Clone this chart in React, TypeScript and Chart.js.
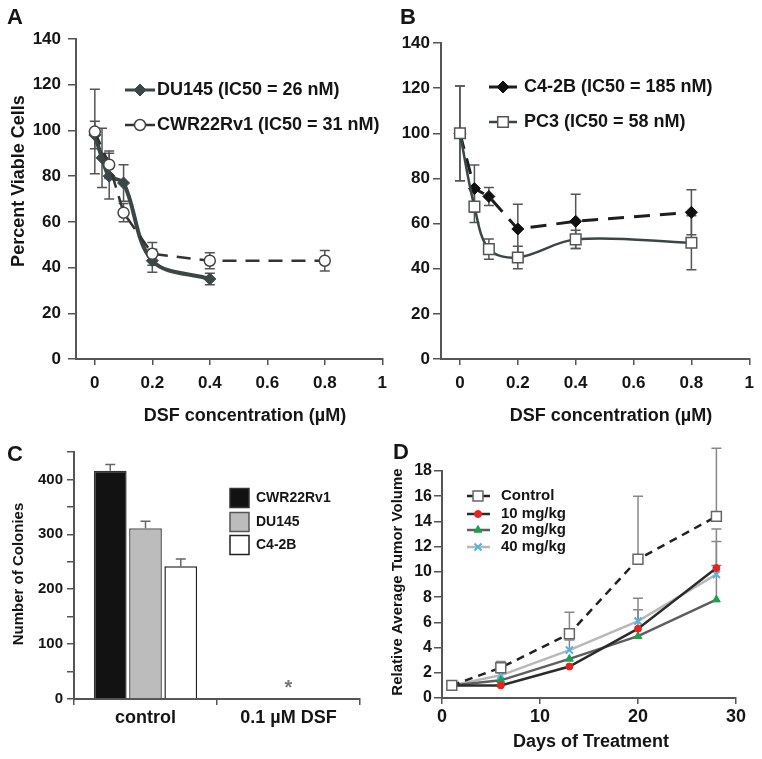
import React, { useEffect, useRef } from 'react';
import { Chart, registerables } from 'chart.js';
import { drawPoint } from 'chart.js/helpers';

Chart.register(...registerables);

const FONT = '"Liberation Sans", Arial, Helvetica, sans-serif';
Chart.defaults.font.family = FONT;

// ---------- Panel A: viability vs DSF ----------
const doseTicks = [0, 0.2, 0.4, 0.6, 0.8, 1];
const du145Dose = [0, 0.025, 0.05, 0.1, 0.2, 0.4];
const du145Viability = [98, 88, 80, 77, 43, 35];
const du145Err = [6, 13, 10, 8, 5, 2.5];
const cwrDose = [0, 0.05, 0.1, 0.2, 0.4, 0.8];
const cwrViability = [99.5, 85, 64, 46, 43, 43];
const cwrErr = [18.5, 6, 4, 5, 3.5, 4.5];

// ---------- Panel B ----------
const c42bDose = [0, 0.05, 0.1, 0.2, 0.4, 0.8];
const c42bViability = [100, 75.5, 72, 57.6, 61, 65];
const c42bErr = [21, 10.5, 4, 11, 12, 10];
const pc3Dose = [0, 0.05, 0.1, 0.2, 0.4, 0.8];
const pc3Viability = [100, 67.5, 48.7, 45, 53, 51.5];
const pc3Err = [21, 7, 4.5, 5, 4, 12];

// ---------- Panel C: colonies ----------
const colonyCategories = ['control', '0.1 \u00b5M DSF'];
const cwrColonies = [416, 0];
const cwrColonyErr = [11, 0];
const du145Colonies = [311, 0];
const du145ColonyErr = [13, 0];
const c42bColonies = [242, 0];
const c42bColonyErr = [13, 0];

// ---------- Panel D: tumor volume ----------
const treatmentDays = [1, 6, 13, 20, 28];
const controlVolume = [1.0, 2.4, 5.1, 11.0, 14.4];
const controlErrUp = [0, 0.5, 1.7, 5.0, 5.4];
const mg10Volume = [1.0, 1.0, 2.5, 5.5, 10.3];
const mg10ErrUp = [0, 0, 0, 1.5, 3.1];
const mg20Volume = [1.0, 1.4, 3.1, 4.9, 7.8];
const mg20ErrUp = [0, 0, 0, 0, 4.6];
const mg40Volume = [1.0, 1.8, 3.8, 6.1, 9.8];
const mg40ErrUp = [0, 0, 0.8, 1.8, 0.7];

const AXIS = '#555';
const TXT = '#151515';

const pts = (xs: number[], ys: number[]) => xs.map((x, i) => ({ x, y: ys[i] }));

const errorBarPlugin = {
  id: 'errorBars',
  beforeDatasetsDraw(chart: any) {
    const ctx = chart.ctx;
    const yScale = chart.scales.y;
    chart.data.datasets.forEach((ds: any, i: number) => {
      if (!ds.errorUp && !ds.errorDown) return;
      const meta = chart.getDatasetMeta(i);
      ctx.save();
      ctx.strokeStyle = ds.errorColor || '#555';
      ctx.lineWidth = ds.errorWidth || 1.5;
      meta.data.forEach((el: any, j: number) => {
        const raw = ds.data[j];
        const v = typeof raw === 'object' && raw !== null ? raw.y : raw;
        const up = ds.errorUp ? ds.errorUp[j] : 0;
        const down = ds.errorDown ? ds.errorDown[j] : 0;
        if (!up && !down) return;
        const x = el.x;
        const yTop = yScale.getPixelForValue(v + up);
        const yBot = yScale.getPixelForValue(v - down);
        const cap = ds.errorCap || 5;
        ctx.beginPath();
        ctx.moveTo(x, yTop);
        ctx.lineTo(x, yBot);
        if (up) { ctx.moveTo(x - cap, yTop); ctx.lineTo(x + cap, yTop); }
        if (down) { ctx.moveTo(x - cap, yBot); ctx.lineTo(x + cap, yBot); }
        ctx.stroke();
      });
      ctx.restore();
    });
  },
};

function decorPlugin(spec: any) {
  return {
    id: 'decor',
    afterDraw(chart: any) {
      const ctx = chart.ctx;
      ctx.save();
      (spec.texts || []).forEach((t: any) => {
        ctx.save();
        ctx.fillStyle = t.color || TXT;
        ctx.font = t.font;
        ctx.textAlign = t.align || 'center';
        ctx.textBaseline = t.baseline || 'middle';
        ctx.translate(t.x, t.y);
        if (t.rotate) ctx.rotate(-Math.PI / 2);
        ctx.fillText(t.text, 0, 0);
        ctx.restore();
      });
      const L = spec.lineLegend;
      if (L) {
        chart.data.datasets.forEach((ds: any, i: number) => {
          const y = L.ys[i];
          ctx.save();
          ctx.strokeStyle = ds.borderColor;
          ctx.lineWidth = Math.min(ds.borderWidth, 3);
          ctx.setLineDash([]);
          ctx.beginPath();
          ctx.moveTo(L.x0, y);
          ctx.lineTo(L.x1, y);
          ctx.stroke();
          ctx.fillStyle = ds.pointBackgroundColor;
          ctx.strokeStyle = ds.pointBorderColor;
          ctx.lineWidth = ds.pointBorderWidth;
          drawPoint(ctx, { pointStyle: ds.pointStyle, radius: ds.pointRadius, rotation: 0, borderWidth: ds.pointBorderWidth } as any, L.mx, y);
          ctx.fillStyle = TXT;
          ctx.font = L.font;
          ctx.textAlign = 'left';
          ctx.textBaseline = 'middle';
          ctx.fillText(ds.label, L.tx, y);
          ctx.restore();
        });
      }
      const B = spec.boxLegend;
      if (B) {
        chart.data.datasets.forEach((ds: any, i: number) => {
          const y = B.ys[i];
          ctx.save();
          ctx.fillStyle = ds.backgroundColor;
          ctx.strokeStyle = ds.borderColor;
          ctx.lineWidth = 1.5;
          ctx.fillRect(B.x, y - B.size / 2, B.size, B.size);
          ctx.strokeRect(B.x, y - B.size / 2, B.size, B.size);
          ctx.fillStyle = TXT;
          ctx.font = B.font;
          ctx.textAlign = 'left';
          ctx.textBaseline = 'middle';
          ctx.fillText(ds.label, B.tx, y);
          ctx.restore();
        });
      }
      if (spec.extra) spec.extra(chart, ctx);
      ctx.restore();
    },
  };
}

function scaleBase(fontSize: number, pad: number, tickLen: number) {
  return {
    grid: { drawOnChartArea: false, drawTicks: true, tickLength: tickLen, color: AXIS, lineWidth: 1.5, tickColor: AXIS, tickWidth: 1.5 },
    border: { display: true, color: AXIS, width: 2 },
    ticks: { color: TXT, font: { size: fontSize, weight: 'bold', family: FONT }, padding: pad, autoSkip: false },
  };
}

function doseChart(opts: any) {
  const xb: any = scaleBase(17, 8, 6);
  const yb: any = scaleBase(17, opts.yPad, 8);
  return {
    type: 'line',
    data: { datasets: opts.datasets },
    options: {
      responsive: false,
      animation: false,
      layout: { padding: { left: 0, top: opts.top, right: opts.right, bottom: 0 } },
      plugins: { legend: { display: false }, tooltip: { enabled: false } },
      scales: {
        x: {
          ...xb,
          type: 'linear',
          min: opts.xMin,
          max: 1,
          ticks: { ...xb.ticks, callback: (v: any) => String(v) },
          afterBuildTicks: (s: any) => { s.ticks = doseTicks.map((v) => ({ value: v })); },
          afterFit: (s: any) => { s.height = opts.xHeight; },
        },
        y: {
          ...yb,
          type: 'linear',
          min: 0,
          max: 140,
          ticks: { ...yb.ticks, stepSize: 20 },
          afterFit: (s: any) => { s.width = opts.yWidth; },
        },
      },
    },
    plugins: [errorBarPlugin, decorPlugin(opts.decor)],
  };
}

function makeA() {
  return doseChart({
    top: 39, right: 10, xHeight: 76, yWidth: 76, yPad: 7, xMin: -0.0655,
    datasets: [
      {
        label: 'DU145 (IC50 = 26 nM)', data: pts(du145Dose, du145Viability), order: 1,
        borderColor: '#3b4747', borderWidth: 4, tension: 0.35,
        pointStyle: 'rectRot', pointRadius: 6, pointBackgroundColor: '#3b4747', pointBorderColor: '#3b4747', pointBorderWidth: 1,
        errorUp: du145Err, errorDown: du145Err, errorColor: '#555', errorCap: 5,
      },
      {
        label: 'CWR22Rv1 (IC50 = 31 nM)', data: pts(cwrDose, cwrViability), order: 0,
        borderColor: '#333', borderWidth: 2.5, borderDash: [14, 9], tension: 0,
        pointStyle: 'circle', pointRadius: 5.5, pointBackgroundColor: '#fff', pointBorderColor: '#444', pointBorderWidth: 1.5,
        errorUp: cwrErr, errorDown: cwrErr, errorColor: '#555', errorCap: 5,
      },
    ],
    decor: {
      texts: [
        { text: 'A', x: 7, y: 24, font: `bold 22px ${FONT}`, align: 'left', baseline: 'alphabetic' },
        { text: 'Percent Viable Cells', x: 19, y: 181, rotate: true, font: `bold 18px ${FONT}` },
        { text: 'DSF concentration (\u00b5M)', x: 245, y: 416, font: `bold 18px ${FONT}` },
      ],
      lineLegend: { x0: 125, x1: 155, mx: 140, tx: 157, ys: [90, 125], font: `bold 18px ${FONT}` },
    },
  });
}

function makeB() {
  return doseChart({
    top: 43, right: 11, xHeight: 76, yWidth: 60, yPad: 3, xMin: -0.0655,
    datasets: [
      {
        label: 'C4-2B (IC50 = 185 nM)', data: pts(c42bDose, c42bViability), order: 1,
        borderColor: '#1e1e1e', borderWidth: 3, borderDash: [16, 10], tension: 0,
        pointStyle: 'rectRot', pointRadius: 6, pointBackgroundColor: '#111', pointBorderColor: '#111', pointBorderWidth: 1,
        errorUp: c42bErr, errorDown: c42bErr, errorColor: '#555', errorCap: 5,
      },
      {
        label: 'PC3 (IC50 = 58 nM)', data: pts(pc3Dose, pc3Viability), order: 0,
        borderColor: '#3a4545', borderWidth: 2.5, tension: 0.35,
        pointStyle: 'rect', pointRadius: 7.5, pointBackgroundColor: '#fff', pointBorderColor: '#555', pointBorderWidth: 1.5,
        errorUp: pc3Err, errorDown: pc3Err, errorColor: '#555', errorCap: 5,
      },
    ],
    decor: {
      texts: [
        { text: 'B', x: 19, y: 24, font: `bold 22px ${FONT}`, align: 'left', baseline: 'alphabetic' },
        { text: 'DSF concentration (\u00b5M)', x: 230, y: 416, font: `bold 18px ${FONT}` },
      ],
      lineLegend: { x0: 108, x1: 136, mx: 122, tx: 143, ys: [87, 122], font: `bold 18px ${FONT}` },
    },
  });
}

function makeC() {
  const xb: any = scaleBase(18, 2, 6);
  const yb: any = scaleBase(15, 4, 7);
  return {
    type: 'bar',
    data: {
      labels: colonyCategories,
      datasets: [
        { label: 'CWR22Rv1', data: cwrColonies, backgroundColor: '#121212', borderColor: '#333', borderWidth: 1.5, errorUp: cwrColonyErr, errorColor: '#666', errorCap: 5 },
        { label: 'DU145', data: du145Colonies, backgroundColor: '#bcbcbc', borderColor: '#555', borderWidth: 1.5, errorUp: du145ColonyErr, errorColor: '#666', errorCap: 5 },
        { label: 'C4-2B', data: c42bColonies, backgroundColor: '#ffffff', borderColor: '#222', borderWidth: 1.5, errorUp: c42bColonyErr, errorColor: '#666', errorCap: 5 },
      ],
    },
    options: {
      responsive: false,
      animation: false,
      datasets: { bar: { categoryPercentage: 0.74, barPercentage: 0.93 } },
      layout: { padding: { left: 0, top: 17, right: 21, bottom: 0 } },
      plugins: { legend: { display: false }, tooltip: { enabled: false } },
      scales: {
        x: {
          ...xb,
          grid: { ...xb.grid, offset: true },
          afterFit: (s: any) => { s.height = 60; },
        },
        y: {
          ...yb,
          min: 0,
          max: 450,
          ticks: { ...yb.ticks, stepSize: 50, callback: (v: any) => (v % 100 === 0 ? String(v) : '') },
          afterFit: (s: any) => { s.width = 74; },
        },
      },
    },
    plugins: [
      errorBarPlugin,
      decorPlugin({
        texts: [
          { text: 'C', x: 7, y: 26, font: `bold 22px ${FONT}`, align: 'left', baseline: 'alphabetic' },
          { text: 'Number of Colonies', x: 19, y: 139, rotate: true, font: `bold 15px ${FONT}` },
        ],
        boxLegend: { x: 230, size: 19, tx: 256, ys: [63, 87, 110], font: `bold 14px ${FONT}` },
        extra: (chart: any, ctx: any) => {
          const x = chart.scales.x.getPixelForValue(1);
          const y = chart.scales.y.getPixelForValue(0) - 5;
          ctx.save();
          ctx.fillStyle = '#777';
          ctx.font = `bold 20px ${FONT}`;
          ctx.textAlign = 'center';
          ctx.textBaseline = 'alphabetic';
          ctx.fillText('*', x, y);
          ctx.restore();
        },
      }),
    ],
  };
}

function makeD() {
  const xb: any = scaleBase(18, 2, 6);
  const yb: any = scaleBase(16, 2, 8);
  return {
    type: 'line',
    data: {
      datasets: [
        {
          label: 'Control', data: pts(treatmentDays, controlVolume), order: 0,
          borderColor: '#222', borderWidth: 2.5, borderDash: [8, 6], tension: 0,
          pointStyle: 'rect', pointRadius: 7, pointBackgroundColor: '#fff', pointBorderColor: '#666', pointBorderWidth: 1.5,
          errorUp: controlErrUp, errorColor: '#888', errorCap: 5,
        },
        {
          label: '10 mg/kg', data: pts(treatmentDays, mg10Volume), order: 1,
          borderColor: '#2b2b2b', borderWidth: 2.5, tension: 0,
          pointStyle: 'circle', pointRadius: 3.5, pointBackgroundColor: '#e8231f', pointBorderColor: '#e8231f', pointBorderWidth: 1,
          errorUp: mg10ErrUp, errorColor: '#888', errorCap: 5,
        },
        {
          label: '20 mg/kg', data: pts(treatmentDays, mg20Volume), order: 2,
          borderColor: '#5e5e5e', borderWidth: 2.5, tension: 0,
          pointStyle: 'triangle', pointRadius: 4.5, pointBackgroundColor: '#1aa14f', pointBorderColor: '#1aa14f', pointBorderWidth: 1,
          errorUp: mg20ErrUp, errorColor: '#888', errorCap: 5,
        },
        {
          label: '40 mg/kg', data: pts(treatmentDays, mg40Volume), order: 3,
          borderColor: '#b8b8b8', borderWidth: 2.5, tension: 0,
          pointStyle: 'crossRot', pointRadius: 5, pointBackgroundColor: '#4fb3e6', pointBorderColor: '#4fb3e6', pointBorderWidth: 2,
          errorUp: mg40ErrUp, errorColor: '#888', errorCap: 5,
        },
      ],
    },
    options: {
      responsive: false,
      animation: false,
      layout: { padding: { left: 0, top: 36, right: 26, bottom: 0 } },
      plugins: { legend: { display: false }, tooltip: { enabled: false } },
      scales: {
        x: {
          ...xb,
          type: 'linear',
          min: 0,
          max: 30,
          ticks: { ...xb.ticks, stepSize: 10 },
          afterFit: (s: any) => { s.height = 61; },
        },
        y: {
          ...yb,
          type: 'linear',
          min: 0,
          max: 18,
          ticks: { ...yb.ticks, stepSize: 2 },
          afterFit: (s: any) => { s.width = 61; },
        },
      },
    },
    plugins: [
      errorBarPlugin,
      decorPlugin({
        texts: [
          { text: 'D', x: 12, y: 24, font: `bold 22px ${FONT}`, align: 'left', baseline: 'alphabetic' },
          { text: 'Relative Average Tumor Volume', x: 17, y: 147, rotate: true, font: `bold 15px ${FONT}` },
          { text: 'Days of Treatment', x: 210, y: 307, font: `bold 18px ${FONT}` },
        ],
        lineLegend: { x0: 86, x1: 109, mx: 97, tx: 120, ys: [61, 79, 95, 112], font: `bold 15px ${FONT}` },
      }),
    ],
  };
}

function Panel({ left, top, width, height, make }: any) {
  const ref = useRef<HTMLCanvasElement>(null);
  useEffect(() => {
    const chart = new Chart(ref.current as HTMLCanvasElement, make() as any);
    return () => chart.destroy();
  }, []);
  return (
    <div style={{ position: 'absolute', left, top, width, height }}>
      <canvas ref={ref} width={width} height={height} style={{ width, height, display: 'block' }} />
    </div>
  );
}

export default function App() {
  return (
    <div style={{ position: 'fixed', left: 0, top: 0, width: 762, height: 759, background: '#fff', overflow: 'hidden' }}>
      <Panel left={381} top={0} width={381} height={435} make={makeB} />
      <Panel left={0} top={0} width={395} height={435} make={makeA} />
      <Panel left={0} top={435} width={381} height={324} make={makeC} />
      <Panel left={381} top={435} width={381} height={324} make={makeD} />
    </div>
  );
}
